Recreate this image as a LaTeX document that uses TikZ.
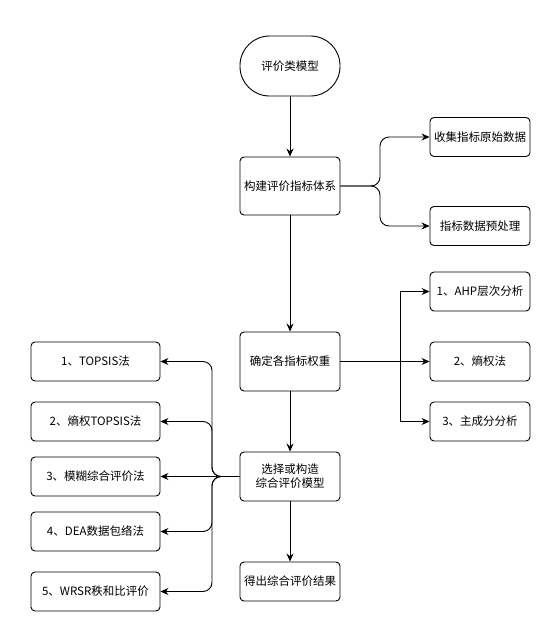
\documentclass[tikz,border=0pt]{standalone}
\usepackage{fontspec}
\setmainfont{Noto Sans CJK SC}
\usetikzlibrary{arrows.meta}
\begin{document}
\begin{tikzpicture}[x=1pt,y=-1pt,
  every node/.style={font=\fontsize{11.5pt}{14pt}\selectfont},
  box/.style={draw, line width=0.9pt, rounded corners=4pt, minimum width=100pt, align=center, inner sep=1pt},
  lbox/.style={box, minimum width=129pt},
  pill/.style={draw, line width=0.9pt, rounded corners=29.5pt, minimum width=100pt, minimum height=60pt},
  conn/.style={line width=0.9pt, -{Stealth[length=8pt,width=7pt]}, rounded corners=9pt},
  sconn/.style={conn, sharp corners}]
\useasboundingbox (0,0) rectangle (555,627);
\node[pill] (start) at (290,66) {评价类模型};
\node[box, minimum height=58pt] (b1) at (290,186) {构建评价指标体系};
\node[box, minimum height=39pt] (c1) at (480,137) {收集指标原始数据};
\node[box, minimum height=39pt] (c2) at (480,226) {指标数据预处理};
\node[box, minimum height=59pt] (b2) at (290,361.5) {确定各指标权重};
\node[box, minimum height=39pt] (w1) at (480,291.5) {1、AHP层次分析};
\node[box, minimum height=39pt] (w2) at (480,361.5) {2、熵权法};
\node[box, minimum height=39pt] (w3) at (480,421.5) {3、主成分分析};
\node[box, minimum height=49pt] (b3) at (290,476.5) {选择或构造\\综合评价模型};
\node[box, minimum height=39pt] (b4) at (290,581.5) {得出综合评价结果};
\node[lbox, minimum height=39pt] (l1) at (95.5,361.5) {1、TOPSIS法};
\node[lbox, minimum height=39pt] (l2) at (95.5,421.5) {2、熵权TOPSIS法};
\node[lbox, minimum height=39pt] (l3) at (95.5,476.5) {3、模糊综合评价法};
\node[lbox, minimum height=39pt] (l4) at (95.5,531.5) {4、DEA数据包络法};
\node[lbox, minimum height=39pt] (l5) at (95.5,591.5) {5、WRSR秩和比评价};
\coordinate (j1) at (380,186);
\coordinate (j2) at (400,361.5);
\coordinate (j3) at (212,476.5);
\draw[conn] (start) -- (b1);
\draw[conn] (b1) -- (b2);
\draw[conn] (b2) -- (b3);
\draw[conn] (b3) -- (b4);
\draw[conn] (b1.east) -- (j1) |- (c1.west);
\draw[conn] (b1.east) -- (j1) |- (c2.west);
\draw[sconn] (j2) |- (w1.west);
\draw[sconn] (b2.east) -- (w2.west);
\draw[sconn] (j2) |- (w3.west);
\draw[conn] (b3.west) -- (j3) |- (l1.east);
\draw[conn] (b3.west) -- (j3) |- (l2.east);
\draw[conn] (b3.west) -- (l3.east);
\draw[conn] (b3.west) -- (j3) |- (l4.east);
\draw[conn] (b3.west) -- (j3) |- (l5.east);
\end{tikzpicture}
\end{document}
